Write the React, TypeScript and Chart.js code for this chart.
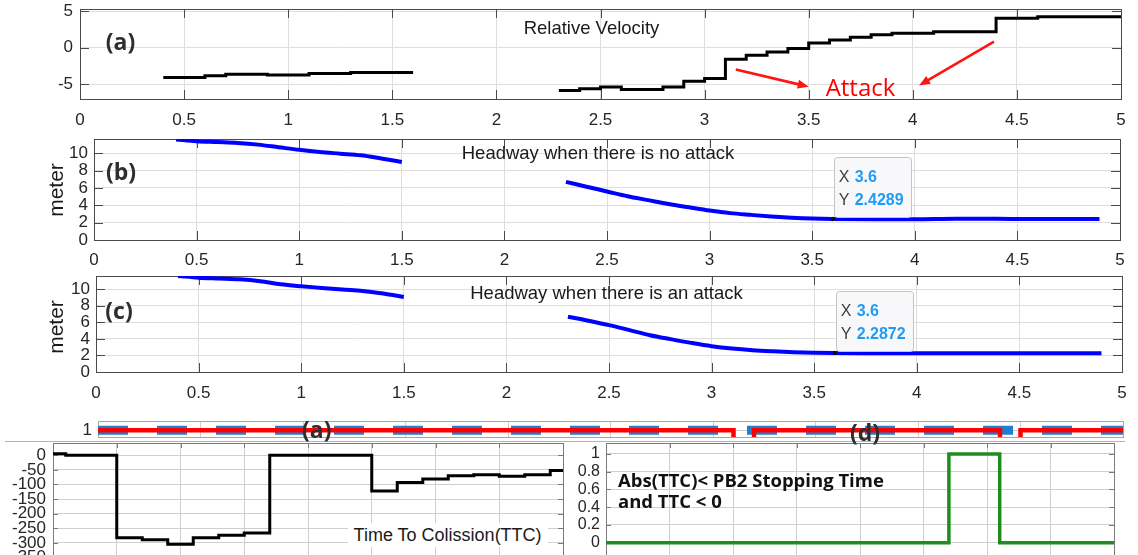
import React, { useEffect, useRef } from 'react';
import { Chart, registerables } from 'chart.js';

Chart.register(...registerables);

// ---------------- data ----------------
// (a) relative velocity (stairs)
const velTimeEarly = [0.4, 0.6, 0.7, 0.9, 1.1, 1.3, 1.6];
const velValueEarly = [-4.1, -3.85, -3.65, -3.75, -3.55, -3.4, -3.4];
const velTimeLate = [2.3, 2.4, 2.5, 2.6, 2.8, 2.9, 3.0, 3.1, 3.2, 3.3, 3.4, 3.5, 3.6, 3.7, 3.8, 3.9, 4.1, 4.4, 4.6, 5.0];
const velValueLate = [-5.9, -5.65, -5.4, -5.75, -5.4, -4.6, -4.25, -1.6, -1.05, -0.6, -0.1, 0.65, 1.05, 1.45, 1.8, 2.0, 2.2, 4.05, 4.25, 4.25];

// (b)/(c) headway
const headTimeEarly = [0.4, 0.5, 0.6, 0.7, 0.8, 0.9, 1.0, 1.1, 1.2, 1.3, 1.4, 1.5];
const headNoAttackEarly = [11.6, 11.4, 11.3, 11.2, 11.0, 10.7, 10.4, 10.15, 9.96, 9.77, 9.4, 9.0];
const headAttackEarly = [11.6, 11.4, 11.3, 11.2, 10.97, 10.6, 10.36, 10.16, 9.96, 9.8, 9.48, 9.07];
const headTimeLate = [2.3, 2.4, 2.5, 2.6, 2.7, 2.8, 2.9, 3.0, 3.1, 3.2, 3.3, 3.4, 3.5, 3.6, 3.8, 4.0, 4.2, 4.4, 4.6, 4.9];
const headNoAttackLate = [6.7, 6.15, 5.6, 5.05, 4.6, 4.15, 3.77, 3.4, 3.1, 2.9, 2.72, 2.58, 2.48, 2.4289, 2.4, 2.4, 2.46, 2.44, 2.42, 2.42];
const headAttackLate = [6.68, 6.2, 5.67, 5.06, 4.45, 3.97, 3.52, 3.12, 2.83, 2.63, 2.5, 2.4, 2.33, 2.2872, 2.27, 2.26, 2.26, 2.26, 2.27, 2.28];

const tipNoAttack = { x: 3.6, y: 2.4289 };
const tipAttack = { x: 3.6, y: 2.2872 };

// arrows in (a): start / end in data units
const arrowStartT = [3.15, 4.39];
const arrowStartV = [-3.0, 0.83];
const arrowEndT = [3.5, 4.03];
const arrowEndV = [-5.37, -5.19];

// strip
const stripRedTime = [0, 3.1, 3.2, 4.4, 4.5, 5.0];
const stripRedValue = [1, 0, 1, 0, 1, 1];
const stripBlueTime = [0, 5.0];
const stripBlueValue = [1, 1];

// bottom left: TTC
const ttcTime = [0, 0.1, 0.5, 0.7, 0.9, 1.1, 1.3, 1.5, 1.7, 2.5, 2.7, 2.9, 3.1, 3.3, 3.5, 3.7, 3.9, 4.0];
const ttcValue = [5, 0, -282, -289, -305, -282, -274, -266, 0, -122, -93, -81, -70, -67, -72, -67, -52, -52];

// bottom right: flag
const flagTime = [0, 2.7, 3.1, 4.0];
const flagValue = [0, 1, 0, 0];

// ticks
const timeTicks = [0, 0.5, 1, 1.5, 2, 2.5, 3, 3.5, 4, 4.5, 5];
const velTicks = [-5, 0, 5];
const headTicks = [0, 2, 4, 6, 8, 10];
const stripTicks = [1];
const bottomTimeTicks = [0, 0.5, 1, 1.5, 2, 2.5, 3, 3.5, 4];
const ttcTicks = [0, -50, -100, -150, -200, -250, -300, -350];
const flagTicks = [0, 0.2, 0.4, 0.6, 0.8, 1];

// ---------------- helpers ----------------
const SANS = '"Liberation Sans", Arial, Helvetica, sans-serif';
const OPEN = '"Open Sans", "Noto Sans", sans-serif';

type Box = { left: number; top: number; width: number; height: number };
type Area = { L: number; T: number; R: number; B: number };

const pts = (xs: number[], ys: number[]) => xs.map((x, i) => ({ x, y: ys[i] }));

const boxPlugin = {
  id: 'mbox',
  beforeDatasetsDraw(chart: any, _a: any, opts: any) {
    if (!opts || !opts.on) return;
    const { ctx, chartArea: a, scales } = chart;
    ctx.save();
    ctx.lineWidth = 1;
    const L = opts.tickLen || 0;
    if (L > 0) {
      ctx.strokeStyle = opts.tickColor;
      ctx.beginPath();
      scales.x.ticks.forEach((t: any) => {
        const p = Math.round(scales.x.getPixelForValue(t.value)) + 0.5;
        ctx.moveTo(p, a.bottom);
        ctx.lineTo(p, a.bottom - L);
        ctx.moveTo(p, a.top);
        ctx.lineTo(p, a.top + L);
      });
      scales.y.ticks.forEach((t: any) => {
        const p = Math.round(scales.y.getPixelForValue(t.value)) + 0.5;
        ctx.moveTo(a.left, p);
        ctx.lineTo(a.left + L, p);
        ctx.moveTo(a.right, p);
        ctx.lineTo(a.right - L, p);
      });
      ctx.stroke();
    }
    ctx.strokeStyle = opts.boxColor;
    ctx.strokeRect(Math.round(a.left) + 0.5, Math.round(a.top) + 0.5, Math.round(a.right - a.left), Math.round(a.bottom - a.top));
    ctx.restore();
  },
};

const tipPlugin = {
  id: 'dtip',
  afterDatasetsDraw(chart: any, _a: any, opts: any) {
    if (!opts || opts.x == null) return;
    const { ctx } = chart;
    const px = chart.scales.x.getPixelForValue(opts.x);
    const py = chart.scales.y.getPixelForValue(opts.y);
    const bx = Math.round(px) + 1.5;
    const by = Math.round(py) - 61.5;
    const bw = 77;
    const bh = 60;
    ctx.save();
    ctx.beginPath();
    const r = 3;
    ctx.moveTo(bx + r, by);
    ctx.lineTo(bx + bw - r, by);
    ctx.quadraticCurveTo(bx + bw, by, bx + bw, by + r);
    ctx.lineTo(bx + bw, by + bh - r);
    ctx.quadraticCurveTo(bx + bw, by + bh, bx + bw - r, by + bh);
    ctx.lineTo(bx + r, by + bh);
    ctx.quadraticCurveTo(bx, by + bh, bx, by + bh - r);
    ctx.lineTo(bx, by + r);
    ctx.quadraticCurveTo(bx, by, bx + r, by);
    ctx.closePath();
    ctx.fillStyle = '#f8f8fb';
    ctx.fill();
    ctx.strokeStyle = '#c4c4c4';
    ctx.lineWidth = 1;
    ctx.stroke();
    ctx.textBaseline = 'alphabetic';
    ctx.textAlign = 'left';
    ctx.font = `16px ${SANS}`;
    ctx.fillStyle = '#404040';
    ctx.fillText('X', px + 6, py - 37);
    ctx.fillText('Y', px + 6, py - 14);
    ctx.font = `bold 16px ${SANS}`;
    ctx.fillStyle = '#1e9cf5';
    ctx.fillText(String(opts.x), px + 22, py - 37);
    ctx.fillText(opts.y.toFixed(4), px + 22, py - 14);
    ctx.beginPath();
    ctx.arc(px, py, 2.2, 0, Math.PI * 2);
    ctx.fillStyle = '#111';
    ctx.fill();
    ctx.restore();
  },
};

const arrowPlugin = {
  id: 'arrows',
  afterDatasetsDraw(chart: any, _a: any, opts: any) {
    if (!opts || !opts.on) return;
    const { ctx, scales } = chart;
    ctx.save();
    ctx.strokeStyle = '#ff1414';
    ctx.fillStyle = '#ff1414';
    ctx.lineWidth = 2.6;
    arrowStartT.forEach((t0, i) => {
      const x1 = scales.x.getPixelForValue(t0);
      const y1 = scales.y.getPixelForValue(arrowStartV[i]);
      const x2 = scales.x.getPixelForValue(arrowEndT[i]);
      const y2 = scales.y.getPixelForValue(arrowEndV[i]);
      const ang = Math.atan2(y2 - y1, x2 - x1);
      const c = Math.cos(ang);
      const s = Math.sin(ang);
      ctx.beginPath();
      ctx.moveTo(x1, y1);
      ctx.lineTo(x2 - 8 * c, y2 - 8 * s);
      ctx.stroke();
      ctx.beginPath();
      ctx.moveTo(x2, y2);
      ctx.lineTo(x2 - 11 * c + 4.5 * s, y2 - 11 * s - 4.5 * c);
      ctx.lineTo(x2 - 11 * c - 4.5 * s, y2 - 11 * s + 4.5 * c);
      ctx.closePath();
      ctx.fill();
    });
    ctx.restore();
  },
};

type Cfg = {
  box: Box;
  area: Area;
  datasets: any[];
  xMin: number;
  xMax: number;
  xTicks: number[];
  xLabels: boolean;
  xPad: number;
  yMin: number;
  yMax: number;
  yTicks: number[];
  yPad: number;
  fontSize: number;
  gridColor: string;
  boxColor: string;
  tickLen: number;
  tip?: { x: number; y: number };
  arrows?: boolean;
};

function makeConfig(p: Cfg): any {
  const padTop = p.area.T - p.box.top;
  const padRight = p.box.left + p.box.width - p.area.R;
  const yWidth = p.area.L - p.box.left;
  const xHeight = p.box.top + p.box.height - p.area.B;
  const font = { family: SANS, size: p.fontSize };
  return {
    type: 'line',
    data: { datasets: p.datasets },
    options: {
      responsive: false,
      animation: false,
      devicePixelRatio: 1,
      events: [],
      layout: { padding: { left: 0, top: padTop, right: padRight, bottom: 0 } },
      plugins: {
        legend: { display: false },
        tooltip: { enabled: false },
        mbox: { on: true, boxColor: p.boxColor, tickColor: p.boxColor, tickLen: p.tickLen },
        dtip: p.tip ? { x: p.tip.x, y: p.tip.y } : {},
        arrows: { on: !!p.arrows },
      },
      elements: { point: { radius: 0 }, line: { borderCapStyle: 'butt', borderJoinStyle: 'miter' } },
      scales: {
        x: {
          type: 'linear',
          min: p.xMin,
          max: p.xMax,
          afterBuildTicks: (s: any) => {
            s.ticks = p.xTicks.map((v) => ({ value: v }));
          },
          afterFit: (s: any) => {
            s.height = xHeight;
          },
          ticks: {
            display: p.xLabels,
            autoSkip: false,
            maxRotation: 0,
            minRotation: 0,
            padding: p.xPad,
            color: '#262626',
            font,
            callback: (v: any) => String(v),
          },
          grid: { color: p.gridColor, lineWidth: 1, drawTicks: false },
          border: { display: false },
        },
        y: {
          type: 'linear',
          min: p.yMin,
          max: p.yMax,
          afterBuildTicks: (s: any) => {
            s.ticks = p.yTicks.map((v) => ({ value: v }));
          },
          afterFit: (s: any) => {
            s.width = yWidth;
          },
          ticks: {
            autoSkip: false,
            padding: p.yPad,
            color: '#262626',
            font,
            callback: (v: any) => String(v),
          },
          grid: { color: p.gridColor, lineWidth: 1, drawTicks: false },
          border: { display: false },
        },
      },
    },
    plugins: [boxPlugin, tipPlugin, arrowPlugin],
  };
}

function ChartCanvas({ cfg }: { cfg: Cfg }) {
  const ref = useRef<HTMLCanvasElement>(null);
  useEffect(() => {
    const chart = new Chart(ref.current as HTMLCanvasElement, makeConfig(cfg));
    return () => chart.destroy();
  }, []);
  const b = cfg.box;
  return (
    <canvas
      ref={ref}
      width={b.width}
      height={b.height}
      style={{ position: 'absolute', left: b.left, top: b.top, width: b.width, height: b.height }}
    />
  );
}

type TextItem = {
  text: string;
  x: number;
  y: number;
  font: string;
  color?: string;
  align?: 'center' | 'left';
  rotate?: boolean;
  bg?: string;
};

function Label({ item }: { item: TextItem }) {
  const tx = item.align === 'left' ? '0' : '-50%';
  return (
    <div
      style={{
        position: 'absolute',
        left: item.x,
        top: item.y,
        transform: `translate(${tx}, -50%)${item.rotate ? ' rotate(-90deg)' : ''}`,
        font: item.font,
        lineHeight: 1,
        color: item.color || '#1a1a1a',
        whiteSpace: 'nowrap',
        background: item.bg,
        padding: item.bg ? '3px 6px' : 0,
      }}
    >
      {item.text}
    </div>
  );
}

// ---------------- charts ----------------
const lineBase = { pointRadius: 0, fill: false };

const panelA: Cfg = {
  box: { left: 0, top: -20, width: 1160, height: 155 },
  area: { L: 80, T: 9, R: 1121, B: 99 },
  datasets: [
    { ...lineBase, data: pts(velTimeEarly, velValueEarly), stepped: true, borderColor: '#000', borderWidth: 3 },
    { ...lineBase, data: pts(velTimeLate, velValueLate), stepped: true, borderColor: '#000', borderWidth: 3 },
  ],
  xMin: 0, xMax: 5, xTicks: timeTicks, xLabels: true, xPad: 11,
  yMin: -7.06, yMax: 5.33, yTicks: velTicks, yPad: 7,
  fontSize: 17, gridColor: '#dedede', boxColor: '#4a4a4a', tickLen: 9,
  arrows: true,
};

const panelB: Cfg = {
  box: { left: 0, top: 110, width: 1160, height: 160 },
  area: { L: 94, T: 139, R: 1120, B: 240 },
  datasets: [
    { ...lineBase, data: pts(headTimeEarly, headNoAttackEarly), borderColor: '#0000ff', borderWidth: 4, cubicInterpolationMode: 'monotone' },
    { ...lineBase, data: pts(headTimeLate, headNoAttackLate), borderColor: '#0000ff', borderWidth: 4, cubicInterpolationMode: 'monotone' },
  ],
  xMin: 0, xMax: 5, xTicks: timeTicks, xLabels: true, xPad: 10,
  yMin: 0, yMax: 11.65, yTicks: headTicks, yPad: 6,
  fontSize: 17, gridColor: '#dedede', boxColor: '#4a4a4a', tickLen: 9,
  tip: tipNoAttack,
};

const panelC: Cfg = {
  box: { left: 0, top: 250, width: 1160, height: 150 },
  area: { L: 96, T: 276, R: 1122, B: 372 },
  datasets: [
    { ...lineBase, data: pts(headTimeEarly, headAttackEarly), borderColor: '#0000ff', borderWidth: 4, cubicInterpolationMode: 'monotone' },
    { ...lineBase, data: pts(headTimeLate, headAttackLate), borderColor: '#0000ff', borderWidth: 4, cubicInterpolationMode: 'monotone' },
  ],
  xMin: 0, xMax: 5, xTicks: timeTicks, xLabels: true, xPad: 11,
  yMin: 0, yMax: 11.6, yTicks: headTicks, yPad: 6,
  fontSize: 17, gridColor: '#dedede', boxColor: '#4a4a4a', tickLen: 9,
  tip: tipAttack,
};

const strip: Cfg = {
  box: { left: 0, top: 395, width: 1160, height: 65 },
  area: { L: 98, T: 421, R: 1123, B: 437 },
  datasets: [
    { ...lineBase, data: pts(stripRedTime, stripRedValue), stepped: true, borderColor: '#ff0000', borderWidth: 4.5 },
    { ...lineBase, data: pts(stripBlueTime, stripBlueValue), borderColor: '#1f7fd0', borderWidth: 9, borderDash: [30, 29] },
  ],
  xMin: 0, xMax: 5, xTicks: timeTicks, xLabels: false, xPad: 0,
  yMin: 0.96, yMax: 1.055, yTicks: stripTicks, yPad: 6,
  fontSize: 17, gridColor: '#cdcdcd', boxColor: '#a4a4a4', tickLen: 0,
};

const ttcChart: Cfg = {
  box: { left: 0, top: 415, width: 600, height: 180 },
  area: { L: 53, T: 443, R: 563, B: 573 },
  datasets: [
    { ...lineBase, data: pts(ttcTime, ttcValue), stepped: true, borderColor: '#000', borderWidth: 3 },
  ],
  xMin: 0, xMax: 4, xTicks: bottomTimeTicks, xLabels: false, xPad: 0,
  yMin: -403, yMax: 42, yTicks: ttcTicks, yPad: 7,
  fontSize: 17, gridColor: '#cfcfcf', boxColor: '#7a7a7a', tickLen: 5,
};

const flagChart: Cfg = {
  box: { left: 560, top: 415, width: 600, height: 180 },
  area: { L: 606, T: 443, R: 1114, B: 573 },
  datasets: [
    { ...lineBase, data: pts(flagTime, flagValue), stepped: true, borderColor: '#1f8c1f', borderWidth: 3.5 },
  ],
  xMin: 0, xMax: 4, xTicks: bottomTimeTicks, xLabels: false, xPad: 0,
  yMin: -0.342, yMax: 1.124, yTicks: flagTicks, yPad: 6,
  fontSize: 16, gridColor: '#cfcfcf', boxColor: '#7a7a7a', tickLen: 5,
};

const texts: TextItem[] = [
  { text: 'Relative Velocity', x: 591.5, y: 28, font: `18.5px ${SANS}` },
  { text: 'Headway when there is no attack', x: 598, y: 153, font: `18.5px ${SANS}` },
  { text: 'Headway when there is an attack', x: 606.5, y: 292.5, font: `18.5px ${SANS}` },
  { text: 'Attack', x: 860.5, y: 87, font: `24px ${OPEN}`, color: '#ff0000' },
  { text: '(a)', x: 120.5, y: 40.5, font: `bold 23px ${OPEN}`, color: '#2e2e2e' },
  { text: '(b)', x: 121, y: 170.5, font: `bold 23px ${OPEN}`, color: '#2e2e2e' },
  { text: '(c)', x: 119, y: 310, font: `bold 23px ${OPEN}`, color: '#2e2e2e' },
  { text: 'meter', x: 55, y: 189.5, font: `21px ${SANS}`, rotate: true },
  { text: 'meter', x: 55, y: 326.5, font: `21px ${SANS}`, rotate: true },
  { text: '(a)', x: 316.7, y: 429, font: `bold 23px ${OPEN}`, color: '#2e2e2e' },
  { text: '(d)', x: 865, y: 431.5, font: `bold 23px ${OPEN}`, color: '#2e2e2e' },
  { text: 'Time To Colission(TTC)', x: 447.6, y: 535, font: `18px ${SANS}`, bg: '#ffffff' },
  { text: 'Abs(TTC)< PB2 Stopping Time', x: 618, y: 479.5, font: `bold 18.5px ${OPEN}`, color: '#111', align: 'left' },
  { text: 'and TTC < 0', x: 618, y: 500.5, font: `bold 18.5px ${OPEN}`, color: '#111', align: 'left' },
];

export default function App() {
  return (
    <div
      style={{
        position: 'fixed',
        left: 0,
        top: 0,
        width: 1138,
        height: 555,
        overflow: 'hidden',
        background: '#ffffff',
      }}
    >
      <ChartCanvas cfg={panelA} />
      <ChartCanvas cfg={panelB} />
      <ChartCanvas cfg={panelC} />
      <ChartCanvas cfg={strip} />
      <div style={{ position: 'absolute', left: 5, top: 441, width: 1120, height: 1, background: '#b4b4b4' }} />
      <ChartCanvas cfg={ttcChart} />
      <ChartCanvas cfg={flagChart} />
      {texts.map((t, i) => (
        <Label key={i} item={t} />
      ))}
    </div>
  );
}
